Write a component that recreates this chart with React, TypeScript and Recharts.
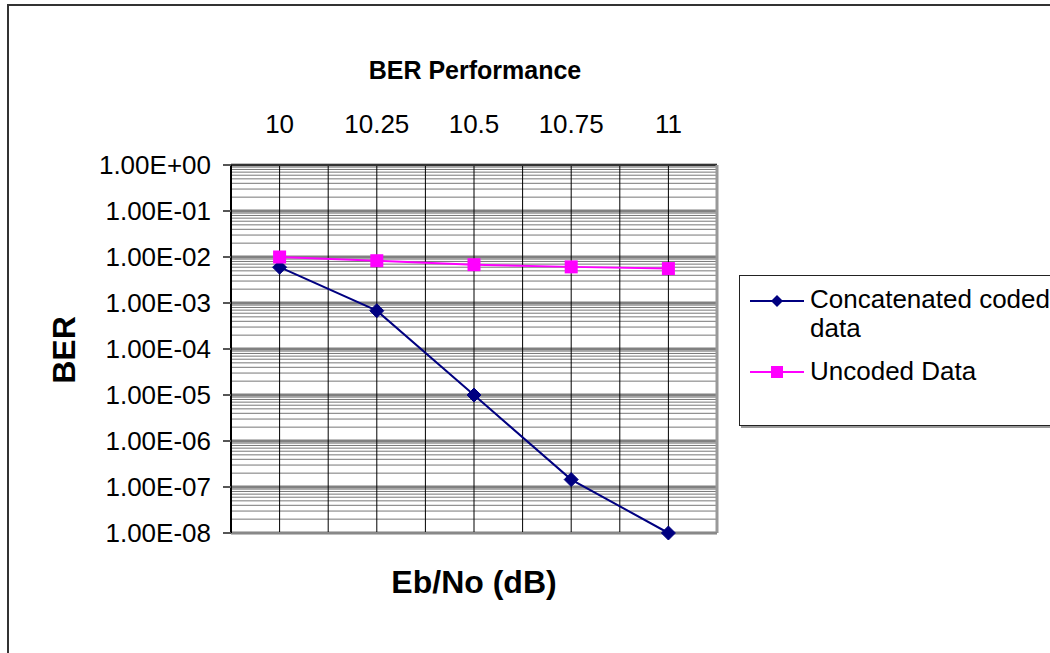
import React from "react";
import { LineChart, Line, XAxis, YAxis, ReferenceLine } from "recharts";

const categories = ["10", "10.25", "10.5", "10.75", "11"];
const concatenatedCoded = [6e-3, 6.8e-4, 1e-5, 1.45e-7, 1e-8];
const uncodedData = [1e-2, 8.3e-3, 6.8e-3, 6.1e-3, 5.6e-3];
const yTicks = [1, 1e-1, 1e-2, 1e-3, 1e-4, 1e-5, 1e-6, 1e-7, 1e-8];
const xTicks = [0, 1, 2, 3, 4];

const chartData = categories.map((label, i) => ({
  idx: i,
  label,
  concatenated: concatenatedCoded[i],
  uncoded: uncodedData[i],
}));

// minor log gridlines: 2..9 within each decade
const minorLines: number[] = [];
yTicks.slice(1).forEach((d) => {
  for (let m = 2; m <= 9; m++) minorLines.push(d * m);
});
const verticalLines = [-0.5, 0, 0.5, 1, 1.5, 2, 2.5, 3, 3.5, 4];

const fmtExp = (v: number) => {
  const e = Math.round(Math.log10(v));
  const sign = e < 0 ? "-" : "+";
  return `1.00E${sign}${String(Math.abs(e)).padStart(2, "0")}`;
};

const NAVY = "#000080";
const MAGENTA = "#FF00FF";
const FONT = "'Liberation Sans', Arial, sans-serif";

const Diamond = (props: any) => {
  const { cx, cy } = props;
  if (cx == null || cy == null) return null;
  const r = 7;
  return (
    <polygon
      points={`${cx},${cy - r} ${cx + r},${cy} ${cx},${cy + r} ${cx - r},${cy}`}
      fill={NAVY}
      stroke={NAVY}
    />
  );
};

const Square = (props: any) => {
  const { cx, cy } = props;
  if (cx == null || cy == null) return null;
  return <rect x={cx - 6.5} y={cy - 6.5} width={13} height={13} fill={MAGENTA} />;
};

export default function App() {
  return (
    <div
      style={{
        position: "fixed",
        left: 0,
        top: 0,
        width: 1050,
        height: 653,
        overflow: "hidden",
        background: "#fff",
        fontFamily: FONT,
      }}
    >
      <div
        style={{
          position: "absolute",
          left: 7,
          top: 4,
          width: 1200,
          height: 800,
          border: "2px solid #333",
        }}
      />
      <LineChart
        width={1050}
        height={653}
        data={chartData}
        margin={{ top: 164, right: 333, bottom: 120, left: 0 }}
        style={{ position: "absolute", left: 0, top: 0 }}
      >
        <XAxis
          xAxisId={0}
          dataKey="idx"
          type="number"
          orientation="top"
          domain={[-0.5, 4.5]}
          ticks={xTicks}
          tickFormatter={(v) => categories[v]}
          axisLine={false}
          tickLine={false}
          tickSize={0}
          tickMargin={32}
          tick={{ fill: "#000", fontSize: 26, fontFamily: FONT }}
          height={1}
        />
        <YAxis
          scale="log"
          domain={[1e-8, 1]}
          ticks={yTicks}
          tickFormatter={fmtExp}
          width={231}
          axisLine={{ stroke: "#000", strokeWidth: 2 }}
          tickLine={{ stroke: "#555", strokeWidth: 2 }}
          tickSize={8}
          tickMargin={12}
          tick={{ fill: "#000", fontSize: 26, fontFamily: FONT }}
          interval={0}
        />
        {minorLines.map((v) => (
          <ReferenceLine key={`m${v}`} y={v} stroke="#777" strokeWidth={1} />
        ))}
        {yTicks.map((v) => (
          <ReferenceLine key={`M${v}`} y={v} stroke="#808080" strokeWidth={3} />
        ))}
        {verticalLines.map((v) => (
          <ReferenceLine key={`v${v}`} x={v} stroke="#000" strokeWidth={1} />
        ))}
        <ReferenceLine y={1} stroke="#333" strokeWidth={2} />
        <ReferenceLine x={4.5} stroke="#999" strokeWidth={3} />
        <ReferenceLine y={1e-8} stroke="#888" strokeWidth={2} />
        <Line
          dataKey="concatenated"
          stroke={NAVY}
          strokeWidth={2}
          dot={<Diamond />}
          activeDot={false}
          isAnimationActive={false}
        />
        <Line
          dataKey="uncoded"
          stroke={MAGENTA}
          strokeWidth={2}
          dot={<Square />}
          activeDot={false}
          isAnimationActive={false}
        />
      </LineChart>

      <div
        style={{
          position: "absolute",
          left: 0,
          width: 950,
          top: 56,
          textAlign: "center",
          fontWeight: "bold",
          fontSize: 25,
        }}
      >
        BER Performance
      </div>
      <div
        style={{
          position: "absolute",
          left: 230,
          width: 488,
          top: 564,
          textAlign: "center",
          fontWeight: "bold",
          fontSize: 32,
        }}
      >
        Eb/No (dB)
      </div>
      <div
        style={{
          position: "absolute",
          left: 64,
          top: 350,
          transform: "translate(-50%, -50%) rotate(-90deg)",
          fontWeight: "bold",
          fontSize: 32,
        }}
      >
        BER
      </div>

      <div
        style={{
          position: "absolute",
          left: 739,
          top: 275,
          width: 400,
          height: 149,
          border: "1.5px solid #222",
          boxShadow: "2px 2px 0 #999",
          background: "#fff",
        }}
      >
        <svg width={60} height={140} style={{ position: "absolute", left: 8, top: 0 }}>
          <line x1={2} x2={56} y1={25} y2={25} stroke={NAVY} strokeWidth={2} />
          <polygon points="29,19 35,25 29,31 23,25" fill={NAVY} />
          <line x1={2} x2={56} y1={96} y2={96} stroke={MAGENTA} strokeWidth={2} />
          <rect x={23} y={90} width={12} height={12} fill={MAGENTA} />
        </svg>
        <div
          style={{
            position: "absolute",
            left: 70,
            top: 9,
            fontSize: 26,
            lineHeight: "29px",
            width: 250,
          }}
        >
          Concatenated coded
          <br />
          data
        </div>
        <div style={{ position: "absolute", left: 70, top: 81, fontSize: 26, lineHeight: "29px" }}>
          Uncoded Data
        </div>
      </div>
    </div>
  );
}
